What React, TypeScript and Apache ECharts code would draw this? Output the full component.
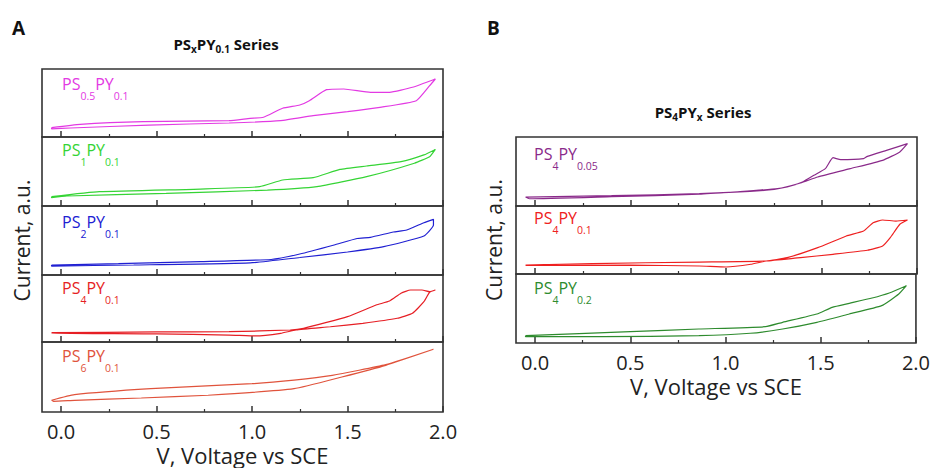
import React, { useEffect, useRef } from "react";
import * as echarts from "echarts";

type Pt = [number, number];

// ---------- axis texts ----------
const xTickValues = [0, 0.5, 1.0, 1.5, 2.0];
const xMinorTickValues = [0.25, 0.75, 1.25, 1.75];
const xAxisName = "V, Voltage vs SCE";
const yAxisName = "Current, a.u.";

// ---------- Panel A : PSxPY0.1 series (V, current a.u.) ----------
const ps05py01Fwd: Pt[] = [[-0.05, 1.37], [0.1, 1.85], [0.43, 2.25], [0.88, 2.4], [0.99, 2.75], [1.06, 2.9], [1.16, 4.22], [1.25, 4.71], [1.3, 5.34], [1.39, 6.96], [1.48, 7.06], [1.62, 6.57], [1.72, 6.57], [1.84, 7.31], [1.96, 8.53]];
const ps05py01Rev: Pt[] = [[1.93, 7.54], [1.86, 5.34], [1.67, 4.37], [1.5, 3.72], [1.32, 3.13], [1.15, 2.4], [0.88, 2.06], [0.46, 1.76], [0.05, 1.32], [-0.05, 1.2], [-0.05, 1.37]];

const ps1py01Fwd: Pt[] = [[-0.05, 1.35], [0.2, 2.07], [0.73, 2.46], [1.04, 2.8], [1.16, 3.77], [1.32, 4.1], [1.46, 5.3], [1.6, 5.8], [1.78, 6.42], [1.9, 7.4], [1.96, 8.2]];
const ps1py01Rev: Pt[] = [[1.93, 7.15], [1.85, 6.2], [1.6, 4.25], [1.34, 2.8], [1.08, 2.3], [0.55, 1.84], [0.03, 1.45], [-0.05, 1.2], [-0.05, 1.35]];

const ps2py01Fwd: Pt[] = [[-0.05, 1.45], [0.3, 1.64], [0.73, 1.93], [1.1, 2.25], [1.25, 3.04], [1.43, 4.35], [1.55, 5.29], [1.62, 5.46], [1.74, 6.23], [1.81, 6.52], [1.9, 7.58], [1.95, 8.07]];
const ps2py01Rev: Pt[] = [[1.95, 7.25], [1.9, 5.65], [1.69, 4.1], [1.5, 3.33], [1.25, 2.54], [0.99, 1.75], [0.38, 1.45], [-0.05, 1.3], [-0.05, 1.45]];

const ps4py01Fwd: Pt[] = [[-0.05, 1.39], [0.5, 1.5], [0.88, 1.54], [1.2, 1.79], [1.27, 2.04], [1.5, 3.78], [1.65, 5.52], [1.72, 6.12], [1.78, 7.27], [1.83, 7.76], [1.89, 7.76], [1.93, 7.51], [1.96, 7.76]];
const ps4py01Rev: Pt[] = [[1.93, 7.42], [1.9, 6.01], [1.84, 4.28], [1.76, 3.54], [1.58, 2.79], [1.41, 2.28], [1.23, 1.79], [1.15, 1.3], [1.02, 0.9], [0.88, 1.04], [0.5, 1.2], [-0.05, 1.3], [-0.05, 1.39]];

const ps6py01Fwd: Pt[] = [[-0.05, 1.67], [0.07, 2.47], [0.47, 3.33], [1.0, 4.04], [1.22, 4.55], [1.42, 5.24], [1.7, 6.76], [1.95, 8.96]];
const ps6py01Rev: Pt[] = [[1.7, 6.67], [1.47, 5.0], [1.22, 3.33], [0.77, 2.39], [0.42, 2.0], [0.07, 1.67], [-0.04, 1.53], [-0.05, 1.67]];

// ---------- Panel B : PS4PYx series ----------
const ps4py005Fwd: Pt[] = [[-0.05, 1.3], [0.4, 1.5], [0.86, 1.78], [1.21, 2.28], [1.32, 2.75], [1.4, 3.48], [1.46, 4.45], [1.52, 5.41], [1.56, 7.0], [1.6, 6.71], [1.72, 6.86], [1.74, 7.2], [1.84, 8.07], [1.95, 9.03]];
const ps4py005Rev: Pt[] = [[1.91, 7.83], [1.82, 6.62], [1.65, 5.41], [1.48, 4.2], [1.39, 3.33], [1.27, 2.51], [1.04, 2.03], [0.86, 1.7], [0.4, 1.35], [-0.03, 1.05], [-0.05, 1.3]];

const ps4py01bFwd: Pt[] = [[-0.05, 1.32], [0.3, 1.54], [0.86, 1.76], [1.21, 1.91], [1.32, 2.4], [1.48, 3.87], [1.63, 5.59], [1.72, 6.32], [1.77, 7.54], [1.82, 7.94], [1.89, 7.79], [1.95, 7.94]];
const ps4py01bRev: Pt[] = [[1.91, 7.31], [1.86, 5.34], [1.82, 4.12], [1.74, 3.49], [1.56, 2.9], [1.39, 2.4], [1.21, 1.91], [1.13, 1.43], [1.0, 1.03], [0.86, 1.18], [0.5, 1.3], [-0.05, 1.25], [-0.05, 1.32]];

const ps4py02Fwd: Pt[] = [[-0.05, 1.06], [0.5, 1.64], [0.86, 2.03], [1.21, 2.36], [1.3, 3.0], [1.48, 4.2], [1.56, 5.17], [1.65, 5.75], [1.77, 6.52], [1.86, 7.25], [1.95, 8.3]];
const ps4py02Rev: Pt[] = [[1.91, 7.1], [1.82, 5.41], [1.65, 4.2], [1.48, 3.0], [1.3, 2.03], [1.13, 1.41], [0.86, 1.06], [0.35, 0.91], [-0.05, 0.91], [-0.05, 1.06]];

// label sub-scripts: PS{a}PY{b}
const labelSubsA = [["0.5", "0.1"], ["1", "0.1"], ["2", "0.1"], ["4", "0.1"], ["6", "0.1"]];
const labelSubsB = [["4", "0.05"], ["4", "0.1"], ["4", "0.2"]];
const colorsA = ["#e33ae3", "#35d435", "#2020d2", "#e61e24", "#e0533c"];
const colorsB = ["#8a2a8a", "#ee2020", "#2e8b2e"];

const FONT = "'Open Sans', sans-serif";

export default function App() {
  const ref = useRef<HTMLDivElement>(null);
  useEffect(() => {
    if (!ref.current) return;
    const chart = echarts.init(ref.current, null, { renderer: "svg" });

    const panels = [
      {
        left: 42, width: 401, tops: [69, 137, 206, 275, 342], bottom: 412,
        curves: [[ps05py01Fwd, ps05py01Rev], [ps1py01Fwd, ps1py01Rev], [ps2py01Fwd, ps2py01Rev], [ps4py01Fwd, ps4py01Rev], [ps6py01Fwd, ps6py01Rev]],
        colors: colorsA, subs: labelSubsA, mid: 2, yGap: 10, labelX: 62, capOff: [10, 8, 11, 8, 9],
      },
      {
        left: 516, width: 401, tops: [137, 206, 274], bottom: 343,
        curves: [[ps4py005Fwd, ps4py005Rev], [ps4py01bFwd, ps4py01bRev], [ps4py02Fwd, ps4py02Rev]],
        colors: colorsB, subs: labelSubsB, mid: 1, yGap: 12, labelX: 534, capOff: [12, 7, 9],
      },
    ];

    const grid: any[] = [];
    const xAxis: any[] = [];
    const yAxis: any[] = [];
    const series: any[] = [];
    const graphic: any[] = [];

    panels.forEach((p) => {
      p.tops.forEach((top, i) => {
        const g = grid.length;
        const bottom = i + 1 < p.tops.length ? p.tops[i + 1] : p.bottom;
        const isLast = i === p.tops.length - 1;
        grid.push({ left: p.left, top, width: p.width, height: bottom - top, show: true, borderColor: "#333", borderWidth: 1.6 });
        xAxis.push({
          type: "value", gridIndex: g, min: -0.1, max: 2.0, position: "bottom",
          axisLine: { show: false }, splitLine: { show: false },
          axisTick: { show: true, inside: true, length: 6, lineStyle: { color: "#333", width: 1.5 }, customValues: xTickValues },
          axisLabel: { show: isLast, customValues: xTickValues, formatter: (v: number) => v.toFixed(1), fontSize: 20, lineHeight: 20, color: "#222", margin: 9, fontFamily: FONT },
          name: isLast ? xAxisName : "", nameLocation: "middle", nameGap: 32,
          nameTextStyle: { fontSize: 22, lineHeight: 22, color: "#222", fontFamily: FONT },
        });
        xAxis.push({
          type: "value", gridIndex: g, min: -0.1, max: 2.0, position: "bottom",
          axisLine: { show: false }, splitLine: { show: false }, axisLabel: { show: false },
          axisTick: { show: true, inside: true, length: 3, lineStyle: { color: "#333", width: 1.2 }, customValues: xMinorTickValues },
        });
        yAxis.push({
          type: "value", gridIndex: g, min: 0, max: 10,
          axisLine: { show: false }, axisTick: { show: false }, axisLabel: { show: false }, splitLine: { show: false },
          name: i === p.mid ? yAxisName : "", nameLocation: "middle", nameGap: p.yGap,
          nameTextStyle: { fontSize: 21, color: "#222", fontFamily: FONT },
        });
        const [fwd, rev] = p.curves[i];
        series.push({
          type: "line", xAxisIndex: 2 * g, yAxisIndex: g, data: [...fwd, ...rev],
          showSymbol: false, symbol: "none", smooth: 0.15, silent: true,
          lineStyle: { color: p.colors[i], width: 1.2 },
        });
        const [s1, s2] = p.subs[i];
        graphic.push({
          type: "text", x: p.labelX, y: top + p.capOff[i] + 6, silent: true,
          style: {
            text: `{m|PS}{s|${s1}}{m|PY}{s|${s2}}`,
            fill: p.colors[i], align: "left", verticalAlign: "top",
            rich: {
              m: { fontSize: 16, lineHeight: 16, padding: [0, 0, 9, 0], verticalAlign: "bottom", fontFamily: FONT, fill: p.colors[i] },
              s: { fontSize: 10.5, lineHeight: 10, verticalAlign: "bottom", fontFamily: FONT, fill: p.colors[i] },
            },
          },
        });
      });
    });

    const titleRich = {
      m: { fontSize: 15, fontWeight: "bold", lineHeight: 15, padding: [0, 0, 3, 0], verticalAlign: "bottom", fontFamily: FONT, fill: "#111" },
      s: { fontSize: 10, fontWeight: "bold", lineHeight: 10, verticalAlign: "bottom", fontFamily: FONT, fill: "#111" },
    };
    graphic.push(
      { type: "text", x: 12, y: 18, silent: true, style: { text: "A", fontSize: 19, fontWeight: "bold", fontFamily: FONT, fill: "#111", verticalAlign: "top" } },
      { type: "text", x: 487, y: 18, silent: true, style: { text: "B", fontSize: 19, fontWeight: "bold", fontFamily: FONT, fill: "#111", verticalAlign: "top" } },
      { type: "text", x: 226, y: 39, silent: true, style: { text: "{m|PS}{s|x}{m|PY}{s|0.1}{m| Series}", align: "center", verticalAlign: "top", rich: titleRich } },
      { type: "text", x: 703, y: 107, silent: true, style: { text: "{m|PS}{s|4}{m|PY}{s|x}{m| Series}", align: "center", verticalAlign: "top", rich: titleRich } },
    );

    chart.setOption({ animation: false, backgroundColor: "#fff", grid, xAxis, yAxis, series, graphic });
    return () => chart.dispose();
  }, []);
  return <div ref={ref} style={{ position: "fixed", left: 0, top: 0, width: 933, height: 468 }} />;
}
